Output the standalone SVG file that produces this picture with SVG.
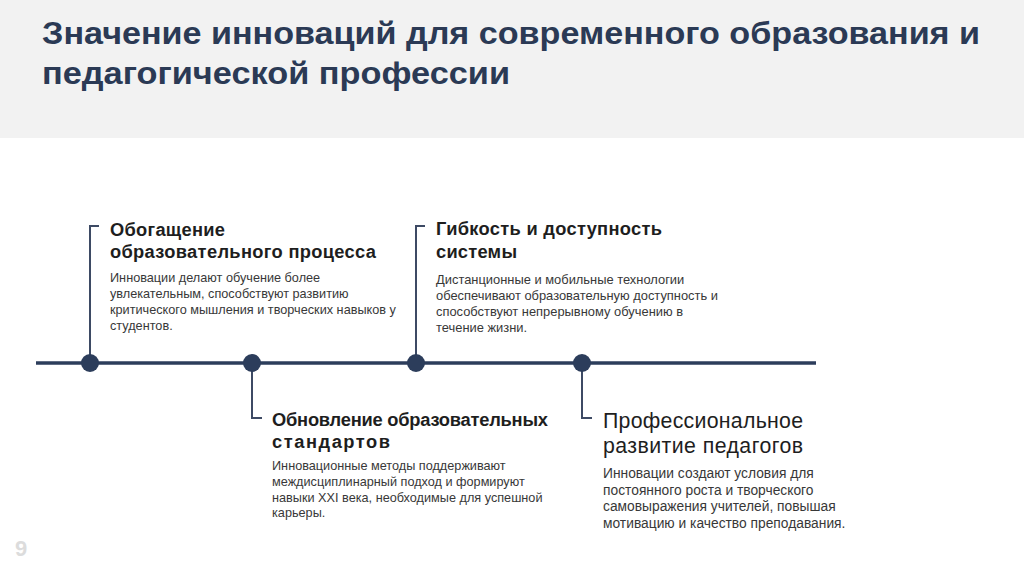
<svg xmlns="http://www.w3.org/2000/svg" width="1024" height="574" viewBox="0 0 1024 574">
<style>
.title{font-family:"Liberation Sans",Arial,sans-serif;font-weight:bold;font-size:31.5px;fill:#2b3a55}
.h{font-family:"Liberation Sans",Arial,sans-serif;font-weight:bold;font-size:18.3px;fill:#1e1e1e}
.h2{font-family:"Liberation Sans",Arial,sans-serif;font-size:21.3px;fill:#1e1e1e}
.b{font-family:"Liberation Sans",Arial,sans-serif;font-size:12.7px;fill:#383838}
.b3{font-family:"Liberation Sans",Arial,sans-serif;font-size:12.9px;fill:#383838}
.b2{font-family:"Liberation Sans",Arial,sans-serif;font-size:13.8px;fill:#383838}
.conn{stroke:#3d4a64;stroke-width:2;fill:none}
.dot{fill:#2c3d5b}
</style>
<rect x="0" y="0" width="1024" height="574" fill="#ffffff"/>
<rect x="0" y="0" width="1024" height="138" fill="#f2f2f2"/>
<g id="title">
<text class="title" x="42" y="44" textLength="938" lengthAdjust="spacingAndGlyphs">Значение инноваций для современного образования и</text>
<text class="title" x="42" y="84" textLength="468" lengthAdjust="spacingAndGlyphs">педагогической профессии</text>
</g>
<g id="connectors">
<line x1="36" y1="363" x2="816" y2="363" stroke="#2c3d5b" stroke-width="3.5"/>
<polyline class="conn" points="99,226 90,226 90,363"/>
<polyline class="conn" points="252,363 252,418 262,418"/>
<polyline class="conn" points="425,226 416,226 416,363"/>
<polyline class="conn" points="582,363 582,418 592,418"/>
</g>
<g id="dot1"><circle class="dot" cx="90" cy="363" r="9"/></g>
<g id="dot2"><circle class="dot" cx="252" cy="363" r="9"/></g>
<g id="dot3"><circle class="dot" cx="416" cy="363" r="9"/></g>
<g id="dot4"><circle class="dot" cx="582" cy="363" r="9"/></g>
<g id="node1">
<text class="h" x="110" y="236" textLength="115" lengthAdjust="spacing">Обогащение</text>
<text class="h" x="110" y="258" textLength="266" lengthAdjust="spacing">образовательного процесса</text>
<text class="b" x="110" y="282">Инновации делают обучение более</text>
<text class="b" x="110" y="298">увлекательным, способствуют развитию</text>
<text class="b" x="110" y="314">критического мышления и творческих навыков у</text>
<text class="b" x="110" y="330">студентов.</text>
</g>
<g id="node2">
<text class="h" x="272" y="426" textLength="276" lengthAdjust="spacing">Обновление образовательных</text>
<text class="h" x="272" y="448" textLength="118" lengthAdjust="spacing">стандартов</text>
<text class="b" x="272" y="470">Инновационные методы поддерживают</text>
<text class="b" x="272" y="486">междисциплинарный подход и формируют</text>
<text class="b" x="272" y="502">навыки XXI века, необходимые для успешной</text>
<text class="b" x="272" y="517">карьеры.</text>
</g>
<g id="node3">
<text class="h" x="436" y="235" textLength="226" lengthAdjust="spacing">Гибкость и доступность</text>
<text class="h" x="436" y="258" textLength="81" lengthAdjust="spacing">системы</text>
<text class="b3" x="436" y="284">Дистанционные и мобильные технологии</text>
<text class="b3" x="436" y="300">обеспечивают образовательную доступность и</text>
<text class="b3" x="436" y="316">способствуют непрерывному обучению в</text>
<text class="b3" x="436" y="332">течение жизни.</text>
</g>
<g id="node4">
<text class="h2" x="603" y="428" textLength="200" lengthAdjust="spacing">Профессиональное</text>
<text class="h2" x="603" y="453" textLength="200" lengthAdjust="spacing">развитие педагогов</text>
<text class="b2" x="603" y="478">Инновации создают условия для</text>
<text class="b2" x="603" y="495">постоянного роста и творческого</text>
<text class="b2" x="603" y="511">самовыражения учителей, повышая</text>
<text class="b2" x="603" y="528">мотивацию и качество преподавания.</text>
</g>
<g id="pagenum">
<text x="15" y="556" font-family="Liberation Sans,Arial,sans-serif" font-weight="bold" font-size="22" fill="#dcdcdc">9</text>
</g>
</svg>
